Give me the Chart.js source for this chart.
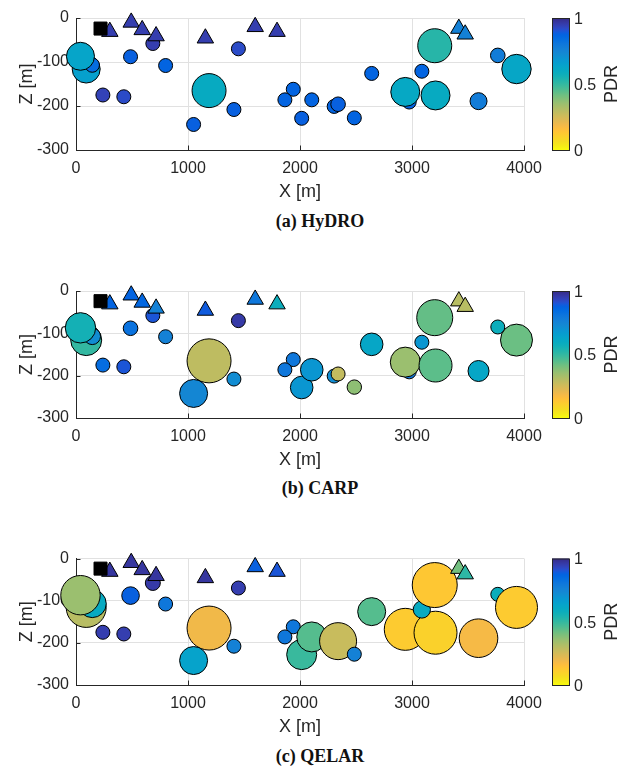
<!DOCTYPE html>
<html><head><meta charset="utf-8">
<script src="https://cdn.jsdelivr.net/npm/chart.js@4/dist/chart.umd.min.js"></script>
<style>
html,body{margin:0;padding:0;background:#fff;}
#wrap{position:relative;width:632px;height:769px;overflow:hidden;background:#fff;}
canvas{position:absolute;left:0;}
.cap{position:absolute;left:0;width:640px;text-align:center;font:bold 18px "Liberation Serif","DejaVu Serif",serif;color:#111;line-height:20px;white-space:nowrap;}
</style></head><body>
<div id="wrap">
<canvas id="ca" width="632" height="205" style="top:0px"></canvas>
<canvas id="cb" width="632" height="205" style="top:268px"></canvas>
<canvas id="cc" width="632" height="205" style="top:535px"></canvas>
<div class="cap" style="top:211px">(a) HyDRO</div>
<div class="cap" style="top:478px">(b) CARP</div>
<div class="cap" style="top:746px">(c) QELAR</div>
</div>
<script>
// ---------------- data ----------------
const panelTitles = ['(a) HyDRO', '(b) CARP', '(c) QELAR'];
const xTicks = [0, 1000, 2000, 3000, 4000];
const zTicks = [0, -100, -200, -300];
const pdrTicks = [0, 0.5, 1];

// sink node (black square)
const sinkX = [219];
const sinkZ = [-24];

// surface nodes (triangles)
const triX = [302, 493, 591, 715, 1155, 1600, 1795, 3418, 3475];
const triZ = [-31, -10, -27, -41, -46, -20, -31, -24, -37];
const triPdrA = [0.95, 0.95, 0.95, 0.95, 0.95, 0.95, 0.95, 0.76, 0.76];
const triPdrB = [0.87, 0.87, 0.86, 0.76, 0.89, 0.80, 0.58, 0.30, 0.30];
const triPdrC = [0.97, 0.97, 0.97, 0.97, 0.97, 0.88, 0.90, 0.41, 0.51];

// underwater nodes (circles)
const nodeX = [91, 145, 40, 240, 427, 487, 686, 800, 1450, 1188, 1410, 1050, 1940, 1865, 2015, 2105, 2305, 2340, 2485, 2640, 2975, 2940, 3210, 3088, 3203, 3594, 3766, 3933];
const nodeZ = [-116, -107, -87, -175, -179, -88, -58, -108, -70, -165, -208, -242, -162, -186, -228, -186, -201, -196, -227, -126, -191, -168, -176, -121, -63, -189, -85, -116];

const pdrA = [0.65, 0.84, 0.63, 0.94, 0.92, 0.88, 0.95, 0.87, 0.92, 0.60, 0.88, 0.88, 0.87, 0.87, 0.88, 0.87, 0.87, 0.88, 0.87, 0.87, 0.87, 0.61, 0.60, 0.87, 0.52, 0.78, 0.78, 0.62];
const bubbleA = [14, 7.2, 14, 7, 7, 7, 7, 7, 7, 17, 7, 7, 7, 7, 7, 7, 7, 7.3, 7, 7, 7, 14.5, 14.5, 7, 17, 8.5, 7.3, 14.7];

const pdrB = [0.50, 0.72, 0.56, 0.84, 0.90, 0.82, 0.90, 0.76, 0.96, 0.29, 0.72, 0.74, 0.80, 0.80, 0.69, 0.69, 0.72, 0.28, 0.37, 0.62, 0.80, 0.35, 0.44, 0.69, 0.43, 0.62, 0.58, 0.42];
const bubbleB = [15.5, 8.3, 15.2, 7, 7, 7.3, 7, 7, 7, 22, 7, 14, 7, 7, 11.3, 11.3, 7, 7, 7.2, 11.3, 7, 15, 16.5, 7, 18, 10.5, 7, 16];

const pdrC = [0.30, 0.60, 0.35, 0.95, 0.95, 0.88, 0.96, 0.80, 0.95, 0.19, 0.76, 0.64, 0.80, 0.80, 0.49, 0.45, 0.75, 0.27, 0.76, 0.45, 0.80, 0.12, 0.10, 0.60, 0.13, 0.18, 0.58, 0.12];
const bubbleC = [20, 14, 19.7, 7, 7, 8.8, 7.5, 7, 7, 22, 7, 14, 7, 7, 15, 15, 7, 18.5, 7, 14, 7, 21, 21.5, 8.6, 22.5, 19.3, 7, 21];

// ---------------- colormap (parula) ----------------
const PARULA = [[0.2081,0.1663,0.5292],[0.2116,0.1898,0.5777],[0.2123,0.2138,0.6270],[0.2081,0.2386,0.6771],[0.1959,0.2645,0.7279],[0.1707,0.2919,0.7792],[0.1253,0.3242,0.8303],[0.0591,0.3598,0.8683],[0.0117,0.3875,0.8820],[0.0060,0.4086,0.8828],[0.0165,0.4266,0.8786],[0.0329,0.4430,0.8720],[0.0498,0.4586,0.8641],[0.0629,0.4737,0.8554],[0.0723,0.4887,0.8467],[0.0779,0.5040,0.8384],[0.0793,0.5200,0.8312],[0.0749,0.5375,0.8263],[0.0641,0.5570,0.8240],[0.0488,0.5772,0.8228],[0.0343,0.5966,0.8199],[0.0265,0.6137,0.8135],[0.0239,0.6287,0.8038],[0.0231,0.6418,0.7913],[0.0228,0.6535,0.7768],[0.0267,0.6642,0.7607],[0.0384,0.6743,0.7436],[0.0590,0.6838,0.7254],[0.0843,0.6928,0.7062],[0.1133,0.7015,0.6859],[0.1453,0.7098,0.6646],[0.1801,0.7177,0.6424],[0.2178,0.7250,0.6193],[0.2586,0.7317,0.5954],[0.3022,0.7376,0.5712],[0.3482,0.7424,0.5473],[0.3953,0.7459,0.5244],[0.4420,0.7481,0.5033],[0.4871,0.7491,0.4840],[0.5300,0.7491,0.4661],[0.5709,0.7485,0.4494],[0.6099,0.7473,0.4337],[0.6473,0.7456,0.4188],[0.6834,0.7435,0.4044],[0.7184,0.7411,0.3905],[0.7525,0.7384,0.3768],[0.7858,0.7356,0.3633],[0.8185,0.7327,0.3498],[0.8507,0.7299,0.3360],[0.8824,0.7274,0.3217],[0.9139,0.7258,0.3063],[0.9450,0.7261,0.2886],[0.9739,0.7314,0.2666],[0.9938,0.7455,0.2403],[0.9990,0.7653,0.2164],[0.9955,0.7861,0.1967],[0.9880,0.8066,0.1794],[0.9789,0.8271,0.1633],[0.9697,0.8481,0.1475],[0.9626,0.8705,0.1309],[0.9589,0.8949,0.1132],[0.9598,0.9218,0.0948],[0.9661,0.9514,0.0755],[0.9763,0.9831,0.0538]];
function rgbStr(c){return 'rgb('+Math.round(c[0]*255)+','+Math.round(c[1]*255)+','+Math.round(c[2]*255)+')';}
function parula(t){
  t = Math.min(1, Math.max(0, t));
  const f = t * 63, i = Math.floor(f), j = Math.min(63, i + 1), u = f - i;
  const a = PARULA[i], b = PARULA[j];
  return rgbStr([a[0]+(b[0]-a[0])*u, a[1]+(b[1]-a[1])*u, a[2]+(b[2]-a[2])*u]);
}
// high PDR = dark blue, low PDR = yellow
function pdrColor(p){ return parula(1 - p); }

// ---------------- plugins ----------------
const AX = '#262626';
const colorbarPlugin = {
  id: 'colorbar',
  afterDraw(chart){
    const ctx = chart.ctx, ca = chart.chartArea;
    const x0 = 552, w = 17, top = ca.top, bot = ca.bottom;
    ctx.save();
    const g = ctx.createLinearGradient(0, top, 0, bot);
    for (let k = 0; k < 64; k++) g.addColorStop(k / 63, rgbStr(PARULA[k]));
    ctx.fillStyle = g;
    ctx.fillRect(x0, top, w, bot - top);
    ctx.strokeStyle = AX; ctx.lineWidth = 1;
    ctx.strokeRect(x0 + 0.5, top + 0.5, w, bot - top);
    ctx.fillStyle = AX;
    ctx.font = '16px "Liberation Sans", Arial, sans-serif';
    ctx.textAlign = 'left'; ctx.textBaseline = 'middle';
    pdrTicks.forEach(v => {
      const y = bot - v * (bot - top);
      ctx.fillText(String(v), 574, y + 1.5);
    });
    ctx.translate(612.5, (top + bot) / 2);
    ctx.rotate(-Math.PI / 2);
    ctx.textAlign = 'center';
    ctx.font = '18px "Liberation Sans", Arial, sans-serif';
    ctx.fillText('PDR', 0, 0);
    ctx.restore();
  }
};
const inTicksPlugin = {
  id: 'inticks',
  beforeDatasetsDraw(chart){
    const ctx = chart.ctx, ca = chart.chartArea;
    const xs = chart.scales.x, ys = chart.scales.y;
    ctx.save();
    ctx.strokeStyle = AX; ctx.lineWidth = 1;
    ctx.beginPath();
    xTicks.forEach(v => { const px = Math.round(xs.getPixelForValue(v)) + 0.5; ctx.moveTo(px, ca.bottom); ctx.lineTo(px, ca.bottom - 4.5); });
    zTicks.forEach(v => { const py = Math.round(ys.getPixelForValue(v)) + 0.5; ctx.moveTo(ca.left, py); ctx.lineTo(ca.left + 4.5, py); });
    ctx.stroke();
    ctx.restore();
  }
};

Chart.defaults.font.family = '"Liberation Sans", Arial, Helvetica, sans-serif';
Chart.defaults.color = AX;

function makeChart(id, pdr, bubble, triPdr){
  const circles = nodeX.map((x, i) => ({x: x, y: nodeZ[i]}));
  const tris = triX.map((x, i) => ({x: x, y: triZ[i]}));
  const sink = sinkX.map((x, i) => ({x: x, y: sinkZ[i]}));
  return new Chart(document.getElementById(id), {
    type: 'scatter',
    data: {
      datasets: [
        { label: 'sink', data: sink, pointStyle: 'rect', pointRadius: 9.2,
          pointBackgroundColor: '#000', pointBorderColor: '#000', pointBorderWidth: 1, clip: false },
        { label: 'surface', data: tris, pointStyle: 'triangle', pointRadius: 9.5,
          pointBackgroundColor: triPdr.map(pdrColor), pointBorderColor: '#000', pointBorderWidth: 1, clip: false },
        { label: 'nodes', data: circles, pointStyle: 'circle', pointRadius: bubble,
          pointBackgroundColor: pdr.map(pdrColor), pointBorderColor: '#000', pointBorderWidth: 1, clip: false }
      ]
    },
    options: {
      responsive: false, animation: false, events: [], devicePixelRatio: 1,
      layout: { padding: { top: 10, right: 108, bottom: 0, left: 0 } },
      plugins: { legend: { display: false }, tooltip: { enabled: false } },
      scales: {
        x: {
          type: 'linear', position: 'bottom', min: 0, max: 4000,
          afterBuildTicks: s => { s.ticks = xTicks.map(v => ({value: v})); },
          afterFit: s => { s.height = 55; },
          ticks: { callback: v => String(v), font: { size: 16 }, color: AX, padding: 9, maxRotation: 0, autoSkip: false },
          grid: { color: '#e1e1e1', lineWidth: 1, drawTicks: false },
          border: { display: true, color: AX, width: 1 },
          title: { display: true, text: 'X [m]', font: { size: 18 }, color: AX, padding: { top: 0, bottom: 2 } }
        },
        y: {
          type: 'linear', position: 'left', min: -300, max: 0,
          afterBuildTicks: s => { s.ticks = zTicks.map(v => ({value: v})); },
          afterFit: s => { s.width = 76; },
          ticks: { callback: v => String(v), font: { size: 16 }, color: AX, padding: 7, autoSkip: false },
          grid: { color: '#e1e1e1', lineWidth: 1, drawTicks: false },
          border: { display: true, color: AX, width: 1 },
          title: { display: true, text: 'Z [m]', font: { size: 18 }, color: AX, padding: { top: 16, bottom: 0 } }
        }
      }
    },
    plugins: [inTicksPlugin, colorbarPlugin]
  });
}
makeChart('ca', pdrA, bubbleA, triPdrA);
makeChart('cb', pdrB, bubbleB, triPdrB);
makeChart('cc', pdrC, bubbleC, triPdrC);
</script>
</body></html>
